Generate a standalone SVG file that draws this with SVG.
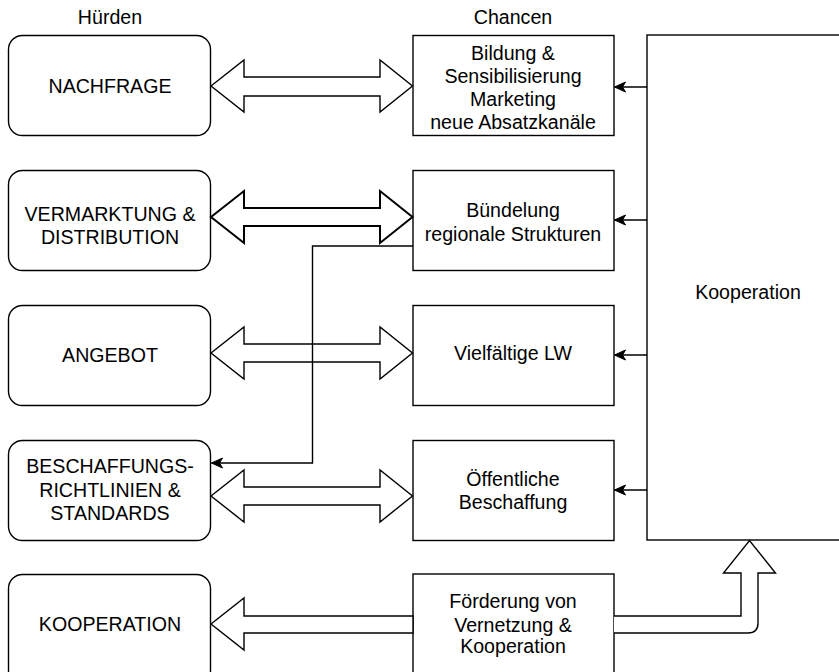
<svg xmlns="http://www.w3.org/2000/svg" width="839" height="672" viewBox="0 0 839 672">
<defs>
<marker id="ah" markerWidth="12" markerHeight="12" viewBox="0 0 12 12" refX="11" refY="6" orient="auto" markerUnits="userSpaceOnUse">
<path d="M11,6 L0,11 L3,6 L0,1 Z" fill="#000" stroke="#000" stroke-width="1"/>
</marker>
<style>
.box{fill:#fff;stroke:#000;stroke-width:1.4}
.arr{fill:#fff;stroke:#000;stroke-width:1.4;stroke-linejoin:miter}
.ln{fill:none;stroke:#000;stroke-width:1.4}
text{font-family:"Liberation Sans",Arial,sans-serif;font-size:19.6px;fill:#000;text-anchor:middle}
</style>
</defs>
<rect width="839" height="672" fill="#fff"/>
<text x="110" y="24">Hürden</text>
<text x="513" y="24">Chancen</text>

<g id="kooperation-main">
<rect class="box" x="647" y="35" width="210" height="505"/>
<text x="748" y="299">Kooperation</text>
</g>

<g id="nachfrage">
<rect class="box" x="8.5" y="35.5" width="202" height="100" rx="14"/>
<text x="110" y="93">NACHFRAGE</text>
</g>
<g id="vermarktung">
<rect class="box" x="8.5" y="170.5" width="202" height="100" rx="14"/>
<text x="110" y="221">VERMARKTUNG &amp;</text>
<text x="110" y="244">DISTRIBUTION</text>
</g>
<g id="angebot">
<rect class="box" x="8.5" y="305.5" width="202" height="100" rx="14"/>
<text x="110" y="362">ANGEBOT</text>
</g>
<g id="beschaffung-hurdle">
<rect class="box" x="8.5" y="440.5" width="202" height="100" rx="14"/>
<text x="110" y="473">BESCHAFFUNGS-</text>
<text x="110" y="496.5">RICHTLINIEN &amp;</text>
<text x="110" y="520">STANDARDS</text>
</g>
<g id="kooperation-hurdle">
<rect class="box" x="8.5" y="574.5" width="202" height="110" rx="14"/>
<text x="110" y="631">KOOPERATION</text>
</g>

<g id="bildung">
<rect class="box" x="413" y="35.5" width="201" height="100"/>
<text x="513" y="60">Bildung &amp;</text>
<text x="513" y="83">Sensibilisierung</text>
<text x="513" y="106">Marketing</text>
<text x="513" y="129">neue Absatzkanäle</text>
</g>
<g id="buendelung">
<rect class="box" x="413" y="170.5" width="201" height="100"/>
<text x="513" y="217">Bündelung</text>
<text x="513" y="241">regionale Strukturen</text>
</g>
<g id="vielfaeltige">
<rect class="box" x="413" y="305.5" width="201" height="100"/>
<text x="513" y="360">Vielfältige LW</text>
</g>
<g id="oeffentliche">
<rect class="box" x="413" y="440.5" width="201" height="100"/>
<text x="513" y="486">Öffentliche</text>
<text x="513" y="509">Beschaffung</text>
</g>
<g id="foerderung">
<rect class="box" x="413" y="574" width="201" height="110"/>
<text x="513" y="608">Förderung von</text>
<text x="513" y="631.5">Vernetzung &amp;</text>
<text x="513" y="653">Kooperation</text>
</g>

<g id="connectors">
<polygon class="arr" points="211,86 244,60 244,77 380,77 380,60 412.5,86 380,112 380,96 244,96 244,112"/>
<polygon class="arr" style="stroke-width:2" points="211,217 244,191 244,208 380,208 380,191 412.5,217 380,243 380,226 244,226 244,243"/>
<polygon class="arr" points="211,353 244,327 244,344 380,344 380,327 412.5,353 380,379 380,362 244,362 244,379"/>
<polygon class="arr" points="211,496 244,470 244,487 380,487 380,470 412.5,496 380,522 380,505 244,505 244,522"/>
<polygon class="arr" points="211,624 244,598 244,616 413,616 413,633 244,633 244,650"/>
<path class="arr" d="M614,616 L741,616 L741,573 L723.5,573 L749.5,540.5 L775.5,573 L758,573 L758,623 Q758,633 748,633 L614,633"/>
<line class="ln" x1="647" y1="87" x2="614.5" y2="87" marker-end="url(#ah)"/>
<line class="ln" x1="647" y1="220" x2="614.5" y2="220" marker-end="url(#ah)"/>
<line class="ln" x1="647" y1="355" x2="614.5" y2="355" marker-end="url(#ah)"/>
<line class="ln" x1="647" y1="490" x2="614.5" y2="490" marker-end="url(#ah)"/>
<polyline class="ln" points="413,246 312.5,246 312.5,463 211.5,463" marker-end="url(#ah)"/>
</g>
</svg>
